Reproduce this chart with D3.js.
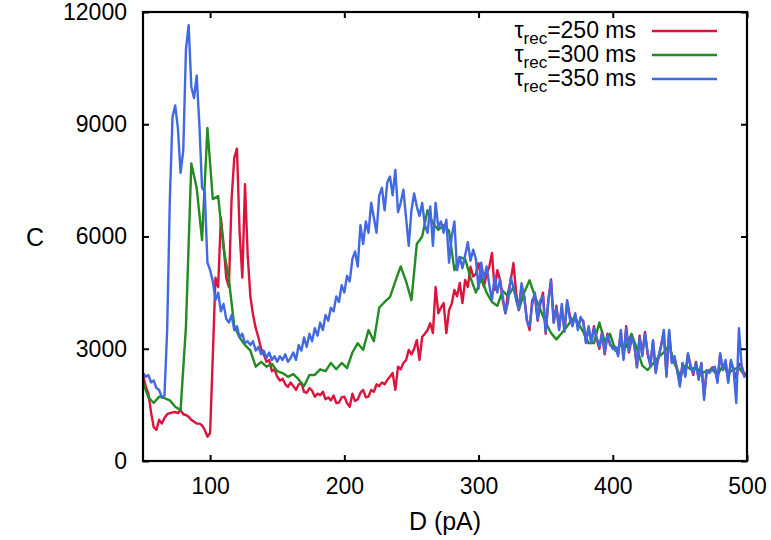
<!DOCTYPE html>
<html>
<head>
<meta charset="utf-8">
<script src="https://cdn.jsdelivr.net/npm/d3@7"></script>
<style>
  html, body { margin: 0; padding: 0; background: #fff; }
  svg { display: block; font-family: "Liberation Sans", Arial, Helvetica, sans-serif; }
</style>
</head>
<body>
<svg id="chart" width="771" height="540"></svg>
<script>
// ---- data ----
const xTicks = [100, 200, 300, 400, 500];
const yTicks = [0, 3000, 6000, 9000, 12000];
const seriesNames = ["250", "300", "350"];
const seriesColors = ["#dc143c", "#228b22", "#4169e1"];

// sample positions (pA)
const dFine = d3.range(50, 501, 2);     // red & blue sampling
const dCoarse = d3.range(50, 499, 4);   // green sampling

const red250 = [
2300,2000,1800,1300,900,830,1100,1000,1150,1250,1280,1300,1310,1280,1360,1250,1230,1180,1100,1050,
1000,1000,950,830,650,750,2800,4900,4650,6500,5800,4900,4650,7000,8100,8350,6100,4900,7400,5500,
4400,3900,3550,3300,3000,2850,2650,2700,2400,2450,2250,2150,2200,2050,1980,2100,2000,1900,2050,2080,
1850,1820,1950,1880,1720,1800,1760,1850,1650,1700,1620,1750,1550,1560,1700,1720,1550,1450,1800,1600,
1650,1820,1900,1700,1720,1900,1850,2050,2000,2100,2050,2170,2250,2350,1900,2520,2450,2620,2700,2970,
2850,3000,3230,2700,3320,3400,3500,3680,3420,4650,3950,4100,4220,3420,4030,4200,4570,4400,4760,4220,
4840,4650,5190,4930,5000,5290,4900,4660,5000,5190,5560,4570,5100,4840,4300,3950,4500,4840,5290,4500,
4030,4660,4400,3770,3500,4300,4400,3750,4200,4500,3400,4300,4850,3700,4150,3550,4100,3500,4250,3900,
3650,3900,3600,3800,3750,3200,3550,3200,3600,3250,3000,3450,2850,3400,3100,3050,3000,2850,3450,2750,
3600,2900,3250,3150,2500,3350,2850,3450,2850,2600,3200,2400,2750,3100,3450,2300,3450,2650,2750,2450,
2050,2600,2300,2850,2550,2300,2650,2200,2600,1750,2400,2400,2500,2500,2150,2850,2450,2650,2150,2650,
2450,2200,2600,2550,2300,2350
];

const green300 = [
2100,1700,1550,1720,1680,1620,1450,1360,3600,7950,7300,5900,8900,7000,7080,5700,4850,3600,3300,3100,
2950,2520,2650,2520,2600,2400,2350,2250,2320,2180,2000,2300,2300,2450,2400,2620,2450,2620,2480,2900,
3150,2970,3500,3200,4100,4250,4380,4800,5200,4800,4300,5800,6000,6700,6350,6180,6300,6150,5100,5450,
5400,4900,4500,4880,4500,4250,4150,4550,4400,4650,4050,4500,4830,4400,4050,3700,3420,3250,3420,3600,
3800,3700,3450,3150,3150,3700,3200,3400,2950,3100,3050,3400,3000,2550,2430,2600,2780,2900,3100,2600,
2300,2550,2450,2500,2350,2400,2450,2300,2550,2350,2450,2500,2300
];

const blue350 = [
2350,2250,2300,2100,2150,1950,1900,1700,1750,3500,7000,9200,9500,8900,7700,8300,11000,11650,10000,9700,
10300,9000,7300,7200,5300,5100,4800,4300,4500,4000,4200,3800,3700,3900,3500,3600,3300,3400,3150,3200,
3100,3200,2950,3050,2850,2950,2750,2900,2700,2800,2650,2800,2700,2850,2650,2750,2900,2700,3100,2950,
3300,3050,3400,3200,3550,3350,3700,3500,3900,3750,4100,4000,4400,4250,4700,4500,4950,4800,5400,5600,
5200,6300,5800,6400,6100,6900,6500,6100,7100,7300,6700,7450,7600,7100,7780,6650,6900,7250,6500,5750,
6700,7150,6800,6550,6900,6300,6100,6800,5750,6900,6250,6400,6100,6450,5300,6000,6400,5100,5450,5150,
5500,5850,5350,5650,5400,4600,5300,4850,5200,4700,4300,4950,4500,4850,4400,3950,4250,4900,4650,4300,
4050,4750,4400,3750,3600,4200,4500,3780,4300,4400,3450,4300,4800,3700,4100,3500,4200,3450,4300,3800,
3600,3950,3500,3850,3700,3150,3600,3150,3550,3300,3050,3400,2900,3350,3150,2990,3050,2800,3500,2700,
3550,2950,3300,3100,2520,3300,2800,3400,2900,2520,3230,2350,2800,3050,3500,2250,3500,2620,2800,2400,
1990,2620,2250,2880,2500,2350,2620,2170,2620,1630,2430,2350,2450,2520,2090,2880,2430,2700,2090,2700,
2430,1550,3550,2520,2250,2350
];

// ---- layout ----
const svg = d3.select("#chart");
const L = 143, R = 747, T = 12, B = 461;
const x = d3.scaleLinear().domain([50, 500]).range([L, R]);
const y = d3.scaleLinear().domain([0, 12000]).range([B, T]);

function pairs(ds, vs) {
  const n = Math.min(ds.length, vs.length);
  const out = [];
  for (let i = 0; i < n; i++) out.push([ds[i], vs[i]]);
  return out;
}
const series = [
  pairs(dFine, red250),
  pairs(dCoarse, green300),
  pairs(dFine, blue350)
];

const line = d3.line().x(d => x(d[0])).y(d => y(d[1]));
const plot = svg.append("g");
plot.append("clipPath").attr("id", "clip").append("rect")
  .attr("x", L).attr("y", T).attr("width", R - L).attr("height", B - T);
series.forEach((s, i) => {
  plot.append("path")
    .attr("d", line(s))
    .attr("fill", "none")
    .attr("stroke", seriesColors[i])
    .attr("stroke-width", 2.4)
    .attr("stroke-linejoin", "round")
    .attr("clip-path", "url(#clip)");
});

// axes (ticks inward, mirrored)
const fs = 23;
const fmt = d3.format("d");
const axB = d3.axisBottom(x).tickValues(xTicks).tickFormat(fmt).tickSizeInner(-6).tickSizeOuter(0).tickPadding(17);
const axT = d3.axisTop(x).tickValues(xTicks).tickSizeInner(-6).tickSizeOuter(0).tickFormat("");
const axLft = d3.axisLeft(y).tickValues(yTicks).tickFormat(fmt).tickSizeInner(-6).tickSizeOuter(0).tickPadding(16);
const axRgt = d3.axisRight(y).tickValues(yTicks).tickSizeInner(-6).tickSizeOuter(0).tickFormat("");

function style(g) {
  g.select(".domain").remove();
  g.selectAll(".tick line").attr("stroke", "#000").attr("stroke-width", 2);
  g.selectAll(".tick text").attr("fill", "#000").style("font-size", fs + "px")
    .style("font-family", "'Liberation Sans', Arial, sans-serif");
}
svg.append("g").attr("transform", `translate(0,${B})`).call(axB).call(style);
svg.append("g").attr("transform", `translate(0,${T})`).call(axT).call(style);
svg.append("g").attr("transform", `translate(${L},0)`).call(axLft).call(style);
svg.append("g").attr("transform", `translate(${R},0)`).call(axRgt).call(style);

// frame
svg.append("rect").attr("x", L).attr("y", T).attr("width", R - L).attr("height", B - T)
  .attr("fill", "none").attr("stroke", "#000").attr("stroke-width", 2.2);

// axis titles
svg.append("text").attr("x", (L + R) / 2).attr("y", 530).attr("text-anchor", "middle")
  .style("font-size", "25px").text("D (pA)");
svg.append("text").attr("x", 35).attr("y", 246).attr("text-anchor", "middle")
  .style("font-size", "25px").text("C");

// legend
const legY = [31, 55, 79];
seriesNames.forEach((nm, i) => {
  const t = svg.append("text").attr("x", 636).attr("y", legY[i] + 7)
    .attr("text-anchor", "end").style("font-size", "23px");
  t.append("tspan").text("\u03c4");
  t.append("tspan").attr("dy", 6).style("font-size", "17px").text("rec");
  t.append("tspan").attr("dy", -6).text("=" + nm + " ms");
  svg.append("line").attr("x1", 652).attr("x2", 717).attr("y1", legY[i]).attr("y2", legY[i])
    .attr("stroke", seriesColors[i]).attr("stroke-width", 2.4);
});
</script>
</body>
</html>
